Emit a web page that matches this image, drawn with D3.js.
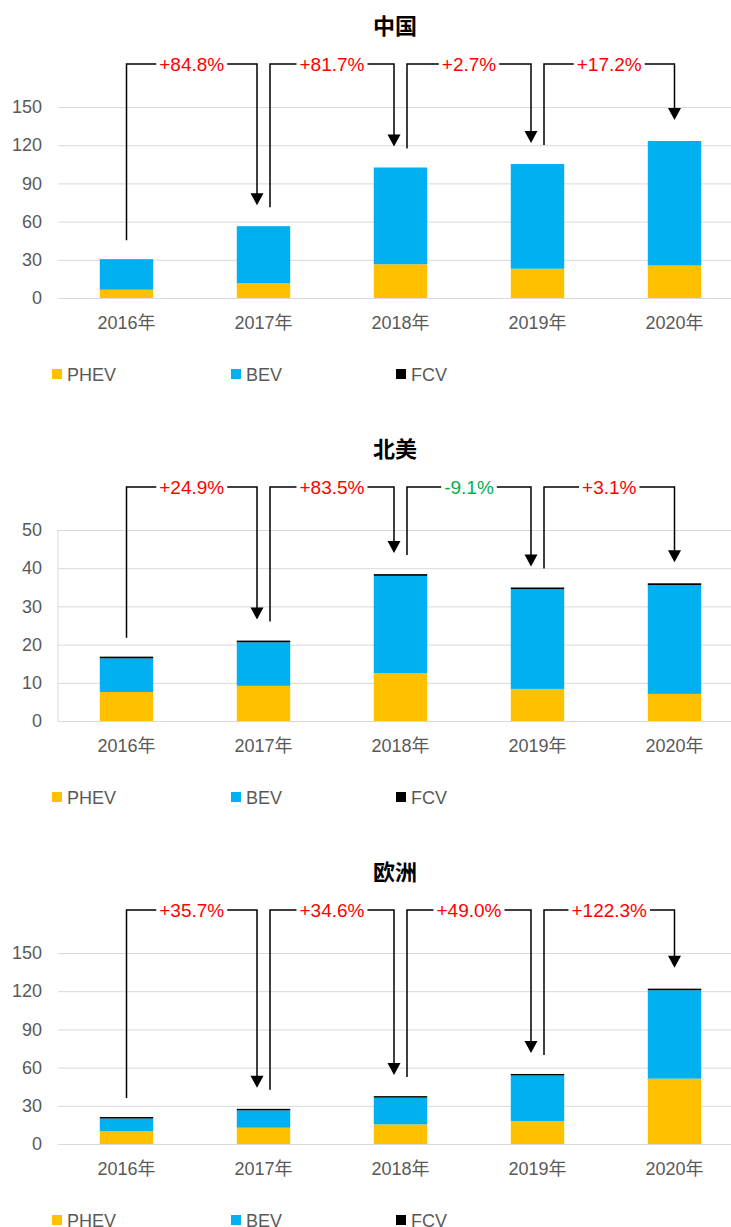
<!DOCTYPE html>
<html>
<head>
<meta charset="utf-8">
<script src="https://cdn.jsdelivr.net/npm/d3@7"></script>
<style>
  body { margin: 0; background: #fff; }
  svg { display: block; }
  text { font-family: "Liberation Sans", Arial, "Noto Sans CJK SC", sans-serif; }
</style>
</head>
<body>
<svg id="chart" width="731" height="1227"></svg>
<script>
// categories + series
var years = ["2016年", "2017年", "2018年", "2019年", "2020年"];
var seriesNames = ["PHEV", "BEV", "FCV"];
var seriesColors = ["#FFC000", "#00B0F0", "#000000"];

// 中国
var chinaPHEV = [6.5, 11.5, 26.5, 23.0, 25.5];
var chinaBEV  = [24.0, 44.9, 76.0, 82.2, 97.8];
var chinaFCV  = [0, 0, 0, 0, 0];
var chinaGrowth = ["+84.8%", "+81.7%", "+2.7%", "+17.2%"];
var chinaTicks = [0, 30, 60, 90, 120, 150];

// 北美
var naPHEV = [7.6, 9.2, 12.5, 8.4, 7.1];
var naBEV  = [8.8, 11.4, 25.5, 26.1, 28.5];
var naFCV  = [0.45, 0.45, 0.45, 0.45, 0.45];
var naGrowth = ["+24.9%", "+83.5%", "-9.1%", "+3.1%"];
var naTicks = [0, 10, 20, 30, 40, 50];

// 欧洲
var euPHEV = [10.2, 12.8, 15.4, 18.1, 51.3];
var euBEV  = [9.8, 13.6, 21.0, 35.7, 69.5];
var euFCV  = [1.2, 1.2, 1.2, 1.2, 1.2];
var euGrowth = ["+35.7%", "+34.6%", "+49.0%", "+122.3%"];
var euTicks = [0, 30, 60, 90, 120, 150];

var regions = [
  {title: "中国", phev: chinaPHEV, bev: chinaBEV, fcv: chinaFCV, growth: chinaGrowth, ticks: chinaTicks, axisLine: false},
  {title: "北美", phev: naPHEV, bev: naBEV, fcv: naFCV, growth: naGrowth, ticks: naTicks, axisLine: true},
  {title: "欧洲", phev: euPHEV, bev: euBEV, fcv: euFCV, growth: euGrowth, ticks: euTicks, axisLine: false}
];

var svg = d3.select("#chart");
var blockH = 423;
var left = 58, right = 743, zeroY = 298, topY = 107, bracketY = 64;

var x = d3.scaleBand().domain(years).range([left, right]).paddingInner(0.61).paddingOuter(0.305);

function drawChart(g, r) {
  var rows = years.map(function(yr, i) {
    return {year: yr, PHEV: r.phev[i], BEV: r.bev[i], FCV: r.fcv[i]};
  });
  var totals = rows.map(function(d) { return d.PHEV + d.BEV + d.FCV; });
  var y = d3.scaleLinear().domain([0, d3.max(r.ticks)]).range([zeroY, topY]);

  // title
  g.append("text")
    .attr("x", 395).attr("y", 34)
    .attr("text-anchor", "middle")
    .style("font-family", "'Noto Sans CJK SC', sans-serif")
    .style("font-weight", "bold")
    .style("font-size", "22px")
    .attr("fill", "#000")
    .text(r.title);

  // grid
  var grid = g.append("g")
    .attr("transform", "translate(" + left + ",0)")
    .call(d3.axisLeft(y).tickValues(r.ticks).tickSize(-(731 - left)).tickFormat(""));
  grid.select(".domain").remove();
  grid.selectAll("line").attr("stroke", "#D9D9D9").attr("stroke-width", 1);

  if (r.axisLine) {
    g.append("line")
      .attr("x1", left).attr("x2", left)
      .attr("y1", y(d3.max(r.ticks))).attr("y2", zeroY)
      .attr("stroke", "#D9D9D9");
  }

  // y labels
  var ya = g.append("g")
    .attr("transform", "translate(" + left + ",0)")
    .call(d3.axisLeft(y).tickValues(r.ticks).tickSize(0).tickPadding(16));
  ya.select(".domain").remove();
  ya.selectAll("text")
    .style("font-size", "18px")
    .style("font-family", "'Liberation Sans', Arial, sans-serif")
    .attr("fill", "#595959");

  // x labels
  var xa = g.append("g")
    .attr("transform", "translate(0," + zeroY + ")")
    .call(d3.axisBottom(x).tickSize(0).tickPadding(18));
  xa.select(".domain").remove();
  xa.selectAll("text")
    .style("font-size", "18px")
    .style("font-family", "'Liberation Sans', Arial, 'Noto Sans CJK SC', sans-serif")
    .attr("fill", "#595959");

  // bars
  var stack = d3.stack().keys(seriesNames)(rows);
  g.selectAll(".layer")
    .data(stack)
    .enter().append("g")
      .attr("fill", function(d, i) { return seriesColors[i]; })
    .selectAll("rect")
    .data(function(d) { return d; })
    .enter().append("rect")
      .attr("x", function(d) { return x(d.data.year); })
      .attr("width", x.bandwidth())
      .attr("y", function(d) { return y(d[1]); })
      .attr("height", function(d) { return y(d[0]) - y(d[1]); });

  // growth brackets
  var last = years.length - 1;
  r.growth.forEach(function(label, i) {
    var c0 = x(years[i]) + x.bandwidth() / 2;
    var c1 = x(years[i + 1]) + x.bandwidth() / 2;
    var x0 = c0 + (i === 0 ? 0 : 6.5);
    var x1 = c1 + (i + 1 === last ? 0 : -6.5);
    var legBottom = y(totals[i]) - 19;
    var tip = y(totals[i + 1]) - 21;
    var mid = (x0 + x1) / 2;

    var t = g.append("text")
      .attr("x", mid).attr("y", bracketY + 7)
      .attr("text-anchor", "middle")
      .style("font-size", "19px")
      .attr("fill", label.charAt(0) === "-" ? "#00B050" : "#FF0000")
      .text(label);
    var w = t.node().getComputedTextLength();

    g.append("path")
      .attr("d", "M" + x0 + "," + legBottom + "V" + bracketY + "H" + (mid - w / 2 - 3))
      .attr("fill", "none").attr("stroke", "#000").attr("stroke-width", 1.5);
    g.append("path")
      .attr("d", "M" + (mid + w / 2 + 3) + "," + bracketY + "H" + x1 + "V" + (tip - 11))
      .attr("fill", "none").attr("stroke", "#000").attr("stroke-width", 1.5);
    g.append("path")
      .attr("d", "M" + (x1 - 6.5) + "," + (tip - 12) + "L" + (x1 + 6.5) + "," + (tip - 12) + "L" + x1 + "," + tip + "Z")
      .attr("fill", "#000");
  });

  // legend
  var legX = [52, 231, 396];
  var leg = g.selectAll(".leg")
    .data(seriesNames)
    .enter().append("g")
      .attr("transform", function(d, i) { return "translate(" + legX[i] + ",369)"; });
  leg.append("rect")
    .attr("width", 10).attr("height", 10)
    .attr("fill", function(d, i) { return seriesColors[i]; });
  leg.append("text")
    .attr("x", 15).attr("y", 12)
    .style("font-size", "18px")
    .attr("fill", "#595959")
    .text(function(d) { return d; });
}

regions.forEach(function(r, k) {
  var g = svg.append("g").attr("transform", "translate(0," + (k * blockH) + ")");
  drawChart(g, r);
});
</script>
</body>
</html>
